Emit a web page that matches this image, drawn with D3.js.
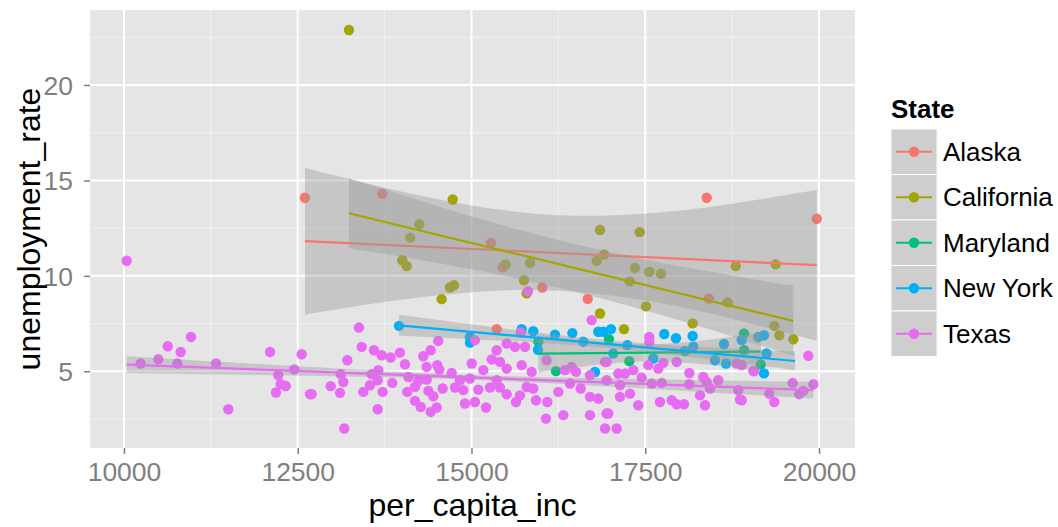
<!DOCTYPE html>
<html>
<head>
<meta charset="utf-8">
<script src="https://cdn.jsdelivr.net/npm/d3@7"></script>
<style>
  body { margin: 0; background: #fff; }
  text { font-family: "Liberation Sans", Arial, sans-serif; }
</style>
</head>
<body>
<script>
'use strict';

// state names and ggplot hue colours
const states = ["Alaska", "California", "Maryland", "New York", "Texas"];
const stateColors = ["#F8766D", "#A3A500", "#00BF7D", "#00B0F6", "#E76BF3"];

const xTicks = [10000, 12500, 15000, 17500, 20000];
const yTicks = [5, 10, 15, 20];

// points: [per_capita_inc, unemployment_rate]
const alaskaPts = [
  [12604, 14.09], [13716, 14.30], [15281, 11.73], [15450, 10.45], [16018, 9.39],
  [16672, 8.79], [18384, 14.09], [18417, 8.81], [19967, 12.99], [15362, 7.21]
];

const californiaPts = [
  [13237, 22.88], [14729, 14.0], [14249, 12.7], [14120, 12.0], [16849, 12.4],
  [17420, 12.29], [14004, 10.82], [14068, 10.51], [14690, 9.39], [14748, 9.51],
  [14571, 8.78], [15492, 10.6], [15842, 10.68], [15755, 9.77], [15794, 9.08],
  [16801, 10.79], [16906, 11.12], [17352, 10.42], [17558, 10.21], [17727, 10.11],
  [17276, 9.71], [17511, 8.40], [18686, 8.61], [18801, 10.51], [16849, 8.03],
  [17194, 7.21], [18182, 7.51], [19377, 10.60], [19357, 7.38], [19430, 6.89],
  [19630, 6.68]
];

const marylandPts = [
  [15962, 6.55], [16216, 5.01], [16978, 6.68], [17271, 5.53], [18921, 6.98],
  [19161, 5.36], [18921, 6.10]
];

const newYorkPts = [
  [13957, 7.38], [14978, 6.80], [14978, 6.50], [15722, 7.20], [15889, 7.10],
  [16201, 6.92], [16451, 7.00], [16609, 6.55], [16825, 7.07], [15957, 6.13],
  [16777, 4.96], [16896, 7.07], [17007, 7.21], [17774, 6.95], [17942, 6.73],
  [18182, 6.85], [18191, 6.29], [18633, 6.43], [18888, 6.64], [17242, 6.37],
  [18072, 6.06], [17616, 5.67], [18504, 5.58], [18662, 5.41], [17040, 5.93],
  [19127, 6.80], [19209, 6.89], [19245, 5.93], [19209, 4.89]
];

const texasPts = [
  [10039, 10.79], [10240, 5.41], [10494, 5.63], [10629, 6.31], [10816, 6.01],
  [10964, 6.80], [10767, 5.41], [11324, 5.41], [11501, 3.01], [12101, 6.01],
  [12557, 5.89], [12450, 5.10], [12220, 4.79], [12255, 4.32], [12327, 4.23],
  [12187, 3.89], [12676, 3.80], [13381, 7.29], [13420, 6.28], [13597, 6.10],
  [13708, 5.84], [13837, 5.72], [13971, 5.98], [14043, 5.37], [13213, 5.58],
  [13118, 4.85], [13156, 4.44], [12974, 4.22], [13108, 3.87], [12700, 3.80],
  [13564, 4.85], [13659, 5.06], [13650, 4.53], [13540, 4.27], [13443, 3.92],
  [13722, 3.92], [13861, 4.39], [13650, 3.01], [13170, 2.00], [14076, 3.92],
  [14091, 4.70], [14187, 3.45], [14269, 3.13], [14413, 2.87], [14499, 3.10],
  [14187, 4.18], [14235, 4.50], [14355, 4.57], [14379, 3.97], [14451, 3.69],
  [14585, 4.10], [14715, 4.91], [14763, 4.15], [14306, 5.79], [14413, 6.10],
  [14522, 6.59], [14355, 5.23], [14508, 5.32], [14537, 5.09], [15003, 5.41],
  [15050, 6.63], [15362, 6.10], [15506, 6.45], [15626, 6.28], [15708, 7.03],
  [15770, 6.28], [15291, 5.62], [15410, 5.49], [15170, 5.06], [15506, 5.14],
  [15722, 5.32], [15866, 4.97], [14835, 4.53], [14978, 4.62], [14882, 4.01],
  [15098, 4.04], [15266, 4.15], [15410, 4.15], [15506, 3.80], [15362, 4.53],
  [14906, 3.31], [15050, 3.39], [15209, 3.10], [15640, 3.39], [15889, 4.10],
  [15928, 3.48], [16091, 3.39], [16072, 2.52], [16249, 3.92], [16321, 2.70],
  [16081, 5.58], [16345, 5.06], [16441, 5.23], [16504, 4.97], [16705, 4.79],
  [16417, 4.36], [16571, 4.10], [16705, 3.66], [16825, 3.57], [16705, 2.70],
  [16945, 2.79], [16921, 2.00], [16729, 7.68], [16921, 5.49], [15794, 4.18],
  [15698, 3.74], [15813, 9.20], [17558, 6.80], [17558, 6.54], [16945, 5.49],
  [17112, 4.88], [17209, 4.88], [17328, 5.06], [17449, 4.67], [17593, 4.36],
  [17737, 4.39], [17544, 5.32], [17688, 5.14], [17760, 5.44], [17952, 5.49],
  [18134, 4.91], [18134, 4.32], [18335, 4.70], [18384, 4.44], [18551, 4.53],
  [18432, 4.10], [18288, 3.74], [18360, 3.22], [18839, 4.01], [18863, 3.52],
  [19055, 5.02], [18815, 5.41], [16945, 4.53], [17137, 4.27], [17281, 3.83],
  [17137, 3.66], [17400, 3.22], [17712, 3.39], [17880, 3.48], [17952, 3.27],
  [18058, 3.27], [16968, 2.79], [17089, 2.00], [19846, 5.81], [19621, 4.39],
  [19918, 4.32], [19716, 3.80], [19774, 3.97], [19285, 3.83], [19357, 3.39],
  [18888, 3.48], [18888, 5.32], [19065, 5.00]
];

// fitted lines (lm): [inc, fit]
const alaskaFit = [[12604, 11.82], [19967, 10.56]];
const californiaFit = [[13237, 13.28], [19630, 7.64]];
const marylandFit = [[15962, 5.92], [19161, 6.03]];
const newYorkFit = [[13957, 7.41], [19655, 5.54]];
const texasFit = [[10039, 5.35], [19918, 4.01]];

// confidence bands: [inc, lower, upper]
const alaskaBand = [
  [12604, 7.98, 15.66], [13500, 8.50, 14.84], [14500, 8.97, 14.03], [15500, 9.24, 13.42],
  [16500, 9.17, 13.15], [17500, 8.71, 13.27], [18500, 7.97, 13.65], [19967, 6.60, 14.50]
];
const californiaBand = [
  [13237, 11.45, 15.11], [14000, 11.00, 14.24], [15000, 10.34, 13.12], [16000, 9.58, 12.12],
  [17000, 8.68, 11.24], [18000, 7.66, 10.50], [19000, 6.54, 9.86], [19630, 5.80, 9.48]
];
const marylandBand = [
  [15962, 4.92, 6.92], [16500, 5.20, 6.68], [17000, 5.41, 6.50], [17560, 5.53, 6.42],
  [18100, 5.45, 6.53], [18600, 5.28, 6.74], [19161, 5.03, 7.03]
];
const newYorkBand = [
  [13957, 6.86, 7.96], [15000, 6.68, 7.46], [16000, 6.48, 7.00], [17000, 6.21, 6.61],
  [18000, 5.82, 6.34], [19000, 5.37, 6.15], [19655, 5.05, 6.03]
];
const texasBand = [
  [10039, 4.91, 5.79], [11500, 4.83, 5.47], [13000, 4.74, 5.16], [15000, 4.56, 4.80],
  [17000, 4.20, 4.62], [18500, 3.88, 4.52], [19918, 3.57, 4.45]
];

(function() {

  const allPts = [alaskaPts, californiaPts, marylandPts, newYorkPts, texasPts];
  const allFits = [alaskaFit, californiaFit, marylandFit, newYorkFit, texasFit];
  const allBands = [alaskaBand, californiaBand, marylandBand, newYorkBand, texasBand];

  const panel = {left: 90, right: 855, top: 10, bottom: 448};
  const fontFamily = '"Liberation Sans", Arial, sans-serif';
  let svg = "";

  window.onload = function() {
    svg = d3.select('body')
      .append('svg')
      .attr('width', 1058)
      .attr('height', 527);

    let scales = drawPanel();
    drawPoints(scales);
    drawSmooths(scales);
    drawAxes(scales);
    drawLegend();
  }

  // grey panel with white grid lines
  function drawPanel() {
    let x = d3.scaleLinear().domain([9511, 20518]).range([panel.left, panel.right]);
    let y = d3.scaleLinear().domain([0.98, 23.93]).range([panel.bottom, panel.top]);

    svg.append('rect')
      .attr('x', panel.left)
      .attr('y', panel.top)
      .attr('width', panel.right - panel.left)
      .attr('height', panel.bottom - panel.top)
      .attr('fill', '#E5E5E5');

    let xMinor = [11250, 13750, 16250, 18750];
    let yMinor = [2.5, 7.5, 12.5, 17.5, 22.5];

    let grid = svg.append('g');
    grid.selectAll('.ymin').data(yMinor).enter().append('line')
      .attr('x1', panel.left).attr('x2', panel.right)
      .attr('y1', d => y(d)).attr('y2', d => y(d))
      .attr('stroke', '#F2F2F2').attr('stroke-width', 1);
    grid.selectAll('.xmin').data(xMinor).enter().append('line')
      .attr('y1', panel.top).attr('y2', panel.bottom)
      .attr('x1', d => x(d)).attr('x2', d => x(d))
      .attr('stroke', '#F2F2F2').attr('stroke-width', 1);
    grid.selectAll('.ymaj').data(yTicks).enter().append('line')
      .attr('x1', panel.left).attr('x2', panel.right)
      .attr('y1', d => y(d)).attr('y2', d => y(d))
      .attr('stroke', '#FFFFFF').attr('stroke-width', 2);
    grid.selectAll('.xmaj').data(xTicks).enter().append('line')
      .attr('y1', panel.top).attr('y2', panel.bottom)
      .attr('x1', d => x(d)).attr('x2', d => x(d))
      .attr('stroke', '#FFFFFF').attr('stroke-width', 2);

    return {x: x, y: y};
  }

  // scatter points for each state
  function drawPoints(s) {
    allPts.forEach((pts, i) => {
      svg.append('g').selectAll('circle')
        .data(pts)
        .enter()
        .append('circle')
          .attr('cx', d => s.x(d[0]))
          .attr('cy', d => s.y(d[1]))
          .attr('r', 5.2)
          .attr('fill', stateColors[i]);
    });
  }

  // lm ribbons and lines, ribbon then line per state
  function drawSmooths(s) {
    let area = d3.area()
      .x(d => s.x(d[0]))
      .y0(d => s.y(d[1]))
      .y1(d => s.y(d[2]))
      .curve(d3.curveNatural);
    let line = d3.line()
      .x(d => s.x(d[0]))
      .y(d => s.y(d[1]));

    allBands.forEach((band, i) => {
      svg.append('path')
        .datum(band)
        .attr('d', area)
        .attr('fill', '#999999')
        .attr('fill-opacity', 0.4);
      svg.append('path')
        .datum(allFits[i])
        .attr('d', line)
        .attr('fill', 'none')
        .attr('stroke', stateColors[i])
        .attr('stroke-width', 2.2);
    });
  }

  // axes, ticks and titles
  function drawAxes(s) {
    let xAxis = d3.axisBottom(s.x).tickValues(xTicks).tickFormat(d3.format('d'))
      .tickSize(6).tickSizeOuter(0);
    let gx = svg.append('g')
      .attr('transform', 'translate(0,' + panel.bottom + ')')
      .call(xAxis);
    gx.select('.domain').remove();
    gx.selectAll('line').attr('stroke', '#7F7F7F').attr('stroke-width', 1.5);
    gx.selectAll('text')
      .attr('fill', '#7F7F7F')
      .attr('y', 33)
      .attr('dy', 0)
      .style('font-size', '26.5px')
      .style('font-family', fontFamily);

    let yAxis = d3.axisLeft(s.y).tickValues(yTicks).tickSize(6).tickSizeOuter(0);
    let gy = svg.append('g')
      .attr('transform', 'translate(' + panel.left + ',0)')
      .call(yAxis);
    gy.select('.domain').remove();
    gy.selectAll('line').attr('stroke', '#7F7F7F').attr('stroke-width', 1.5);
    gy.selectAll('text')
      .attr('fill', '#7F7F7F')
      .attr('x', -17)
      .attr('dy', '0.36em')
      .style('font-size', '26.5px')
      .style('font-family', fontFamily);

    svg.append('text')
      .attr('x', (panel.left + panel.right) / 2)
      .attr('y', 516)
      .attr('text-anchor', 'middle')
      .style('font-size', '32px')
      .text('per_capita_inc');

    svg.append('text')
      .attr('transform', 'translate(40,' + ((panel.top + panel.bottom) / 2) + ')rotate(-90)')
      .attr('text-anchor', 'middle')
      .style('font-size', '32px')
      .text('unemployment_rate');
  }

  // legend with key boxes
  function drawLegend() {
    let keyX = 891, keyY = 129, keyW = 46, keyH = 45.5;

    svg.append('text')
      .attr('x', keyX)
      .attr('y', 118)
      .style('font-size', '26px')
      .style('font-weight', 'bold')
      .text('State');

    states.forEach((st, i) => {
      let top = keyY + i * keyH;
      let g = svg.append('g');
      g.append('rect')
        .attr('x', keyX).attr('y', top)
        .attr('width', keyW).attr('height', keyH)
        .attr('fill', '#F2F2F2')
        .attr('stroke', '#FFFFFF').attr('stroke-width', 1);
      g.append('rect')
        .attr('x', keyX + 0.5).attr('y', top + 0.5)
        .attr('width', keyW - 1).attr('height', keyH - 1)
        .attr('fill', '#999999').attr('fill-opacity', 0.4);
      g.append('line')
        .attr('x1', keyX + 5).attr('x2', keyX + keyW - 5)
        .attr('y1', top + keyH / 2).attr('y2', top + keyH / 2)
        .attr('stroke', stateColors[i]).attr('stroke-width', 2.2);
      g.append('circle')
        .attr('cx', keyX + keyW / 2).attr('cy', top + keyH / 2)
        .attr('r', 5.2)
        .attr('fill', stateColors[i]);
      g.append('text')
        .attr('x', keyX + keyW + 6)
        .attr('y', top + keyH / 2 + 9)
        .style('font-size', '26px')
        .text(st);
    });
  }
})();
</script>
</body>
</html>
